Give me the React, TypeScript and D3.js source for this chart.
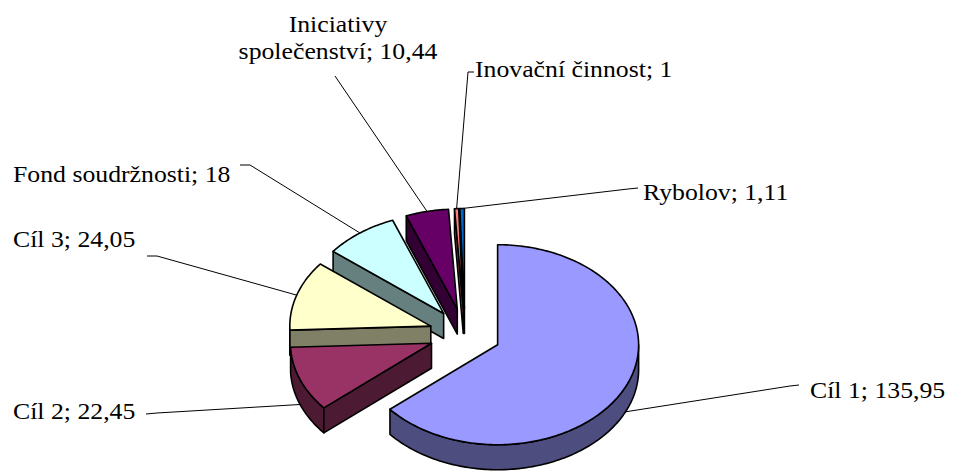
import React from 'react';
import * as d3 from 'd3';

// ————— data —————
const categories = ['Cíl 1', 'Cíl 2', 'Cíl 3', 'Fond soudržnosti', 'Iniciativy společenství', 'Inovační činnost', 'Rybolov'];
const values = [135.95, 22.45, 24.05, 18, 10.44, 1, 1.11];
const topColors = ['#9999FF', '#993366', '#FFFFCC', '#CCFFFF', '#660066', '#FF8080', '#0066CC'];
const sideColors = ['#4D4D80', '#4D1A33', '#808066', '#668080', '#330033', '#804040', '#003366'];

// label placement (layout only)
const labelLayout = [
  { x: 810, y: 398, anchor: 'start', elbow: [790, 386], end: [799, 385] },
  { x: 13, y: 419, anchor: 'start', elbow: [157, 413], end: [146, 414] },
  { x: 13, y: 247, anchor: 'start', elbow: [157, 256], end: [147, 256] },
  { x: 13, y: 182, anchor: 'start', elbow: [250, 165], end: [240, 165] },
  { x: 338, y: 32, anchor: 'middle', elbow: [335, 76], end: [335, 76] },
  { x: 475, y: 77, anchor: 'start', elbow: [468, 72], end: [474, 72] },
  { x: 643, y: 200, anchor: 'start', elbow: [628, 189], end: [638, 188] },
];

const W = 953, H = 471;
const cx = 465, cy = 334;
const rx = 141, ry = 100, depth = 25;
const explode = 0.255;
const fontSize = 23;
const stretch = 1.12;

const fmt = (v: number) => String(v).replace('.', ',');

export default function App() {
  const pie = d3.pie<number>().sort(null).value(d => d);
  const arcs = pie(values);

  const pt = (x0: number, y0: number, a: number, dz = 0): [number, number] =>
    [x0 + rx * Math.sin(a), y0 - ry * Math.cos(a) + dz];
  const arcPts = (x0: number, y0: number, a0: number, a1: number, dz = 0) => {
    const n = Math.max(2, Math.ceil(Math.abs(a1 - a0) / 0.02));
    return d3.range(n + 1).map(i => pt(x0, y0, a0 + (a1 - a0) * i / n, dz));
  };
  const line = d3.line();
  const closed = (pts: [number, number][]) => line(pts) + 'Z';

  const slices = arcs.map((a, i) => {
    const mid = (a.startAngle + a.endAngle) / 2;
    const sx = cx + explode * rx * Math.sin(mid);
    const sy = cy - explode * ry * Math.cos(mid);
    const order = sy - 0.5 * ry * Math.cos(mid);
    return { a, i, mid, sx, sy, order };
  });

  const drawOrder = [...slices].sort((p, q) => p.order - q.order);

  const stroke = { stroke: '#000', strokeWidth: 1.6, strokeLinejoin: 'round' as const };

  return (
    <>
      <style>{`body{margin:0}`}</style>
      <svg width={W} height={H} style={{ display: 'block', background: '#fff' }}>
        {drawOrder.map(({ a, i, sx, sy }) => {
          const a0 = a.startAngle, a1 = a.endAngle;
          const faces: JSX.Element[] = [];
          // outer side (front half)
          const lo = Math.max(a0, Math.PI / 2), hi = Math.min(a1, 1.5 * Math.PI);
          if (lo < hi) {
            const pts = [...arcPts(sx, sy, lo, hi), ...arcPts(sx, sy, hi, lo, depth)];
            faces.push(<path key="side" d={closed(pts)} fill={sideColors[i]} {...stroke} />);
          }
          // radial faces
          if (Math.sin(a0) < -1e-6) {
            const p = pt(sx, sy, a0);
            faces.push(<path key="s0" d={closed([[sx, sy], p, [p[0], p[1] + depth], [sx, sy + depth]])} fill={sideColors[i]} {...stroke} />);
          }
          if (Math.sin(a1) > 1e-6) {
            const p = pt(sx, sy, a1);
            faces.push(<path key="s1" d={closed([[sx, sy], p, [p[0], p[1] + depth], [sx, sy + depth]])} fill={sideColors[i]} {...stroke} />);
          }
          // top
          const top = [[sx, sy] as [number, number], ...arcPts(sx, sy, a0, a1)];
          faces.push(<path key="top" d={closed(top)} fill={topColors[i]} {...stroke} />);
          return <g key={i}>{faces}</g>;
        })}

        {slices.map(({ i, mid, sx, sy }) => {
          const L = labelLayout[i];
          const front = Math.cos(mid) < 0;
          const s = pt(sx, sy, mid, front ? depth : 0);
          const pts: [number, number][] = [s, L.elbow as [number, number], L.end as [number, number]];
          const name = categories[i];
          const label = `${name}; ${fmt(values[i])}`;
          const lines = i === 4 ? ['Iniciativy', `společenství; ${fmt(values[i])}`] : [label];
          return (
            <g key={'l' + i}>
              <path d={line(pts) || ''} fill="none" stroke="#000" strokeWidth={1} />
              <g transform={`translate(${L.x},${L.y}) scale(${stretch},1)`}>
                <text
                  textAnchor={L.anchor}
                  fontFamily="'Liberation Serif', 'Times New Roman', serif"
                  fontSize={fontSize}
                  fill="#000"
                >
                  {lines.map((t, k) => (
                    <tspan key={k} x={0} dy={k === 0 ? 0 : 27}>{t}</tspan>
                  ))}
                </text>
              </g>
            </g>
          );
        })}
      </svg>
    </>
  );
}
